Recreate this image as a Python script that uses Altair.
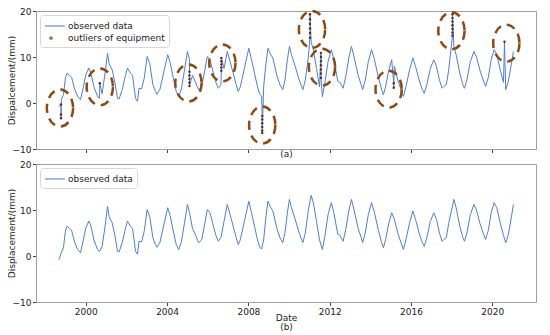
import altair as alt
import pandas as pd

# ---------------- data ----------------
obs_year = [1998.68, 1998.80, 1998.90, 1999.00, 1999.08, 1999.20, 1999.30, 1999.45, 1999.60, 1999.74,
            1999.88, 2000.00, 2000.15, 2000.25, 2000.40, 2000.58, 2000.67, 2000.80, 2000.95, 2001.07,
            2001.15, 2001.30, 2001.45, 2001.56, 2001.64, 2001.80, 2001.95, 2002.05, 2002.20, 2002.30,
            2002.45, 2002.54, 2002.62, 2002.75, 2002.88, 2003.02, 2003.15, 2003.30, 2003.43, 2003.50,
            2003.65, 2003.85, 2004.03, 2004.15, 2004.30, 2004.45, 2004.57, 2004.70, 2004.85, 2005.00,
            2005.10, 2005.25, 2005.40, 2005.55, 2005.70, 2005.85, 2005.98, 2006.10, 2006.25, 2006.40,
            2006.52, 2006.65, 2006.80, 2006.96, 2007.10, 2007.25, 2007.40, 2007.50, 2007.60, 2007.80,
            2008.02, 2008.15, 2008.30, 2008.45, 2008.55, 2008.65, 2008.75, 2008.85, 2008.96, 2009.10,
            2009.20, 2009.40, 2009.55, 2009.69, 2009.80, 2009.92, 2010.02, 2010.12, 2010.30, 2010.50,
            2010.68, 2010.80, 2010.95, 2011.09, 2011.20, 2011.35, 2011.50, 2011.64, 2011.75, 2011.92,
            2012.08, 2012.20, 2012.40, 2012.50, 2012.66, 2012.80, 2012.95, 2013.07, 2013.20, 2013.40,
            2013.55, 2013.62, 2013.75, 2013.90, 2014.06, 2014.20, 2014.40, 2014.55, 2014.64, 2014.75,
            2014.90, 2015.05, 2015.18, 2015.35, 2015.50, 2015.63, 2015.75, 2015.92, 2016.09, 2016.22,
            2016.40, 2016.55, 2016.65, 2016.78, 2016.95, 2017.12, 2017.25, 2017.40, 2017.53, 2017.62,
            2017.74, 2017.85, 2018.11, 2018.22, 2018.40, 2018.55, 2018.63, 2018.75, 2018.92, 2019.10,
            2019.22, 2019.40, 2019.55, 2019.67, 2019.80, 2019.95, 2020.09, 2020.22, 2020.40, 2020.55,
            2020.66, 2020.78, 2020.92, 2021.04]
obs_disp = [-0.8, 0.8, 1.8, 5.5, 6.5, 6.0, 5.6, 3.0, 1.4, 0.7,
            3.5, 6.1, 7.6, 6.5, 3.5, 1.4, 1.0, 2.0, 6.5, 10.8,
            8.5, 7.2, 4.0, 1.0, 0.9, 3.0, 6.0, 7.6, 6.4, 6.0,
            1.0, 0.4, 3.2, 3.1, 5.5, 10.1, 8.5, 4.0, 2.5, 1.9,
            3.0, 7.0, 10.5, 8.8, 5.5, 2.5, 1.4, 3.0, 7.0, 11.2,
            9.5, 6.0, 4.5, 2.9, 3.5, 7.0, 10.1, 9.5, 7.0, 4.5,
            3.2, 4.0, 7.5, 11.2, 9.0, 6.5, 4.0, 2.5, 3.5, 7.5,
            11.9, 9.5, 6.5, 3.5, 2.0, 1.5, 3.5, 8.0, 11.9, 10.5,
            9.8, 6.0, 4.0, 2.9, 5.0, 9.5, 12.3, 10.5, 8.0, 5.0,
            2.9, 5.0, 10.0, 13.2, 11.5, 7.5, 3.5, 1.4, 4.0, 9.0,
            11.6, 9.5, 4.7, 4.5, 3.2, 6.0, 10.0, 12.3, 10.0, 6.0,
            4.0, 2.9, 5.0, 9.0, 11.6, 9.5, 5.5, 3.0, 1.8, 3.5,
            7.0, 9.4, 8.0, 5.0, 3.0, 1.4, 3.5, 7.0, 9.8, 8.0,
            5.0, 3.0, 2.1, 4.0, 7.5, 9.4, 8.0, 5.0, 3.2, 3.6,
            4.0, 7.0, 12.3, 10.5, 6.5, 4.0, 3.2, 5.0, 9.0, 11.2,
            10.0, 7.0, 5.0, 3.6, 5.5, 9.5, 11.6, 10.5, 7.0, 4.5,
            2.9, 4.5, 8.0, 11.2]

# outliers of equipment (panel a)
out_year = [1998.78, 1998.78, 1998.78,
            2000.69,
            2005.10, 2005.10, 2005.10, 2005.10, 2005.10,
            2006.67, 2006.67, 2006.67, 2006.67, 2006.67,
            2008.68, 2008.68, 2008.68, 2008.68, 2008.68, 2008.68,
            2011.03, 2011.03, 2011.03, 2011.03, 2011.03, 2011.03,
            2011.57, 2011.57, 2011.57, 2011.57, 2011.57, 2011.57, 2011.57,
            2015.15, 2015.15,
            2018.04, 2018.04, 2018.04, 2018.04, 2018.04, 2018.04, 2018.04,
            2020.60]
out_disp = [-0.3, -2.5, -3.3,
            4.3,
            6.8, 6.0, 5.2, 4.4, 3.7,
            7.0, 7.7, 8.4, 9.1, 9.8,
            -2.8, -3.6, -4.4, -5.2, -6.0, -6.5,
            14.2, 15.2, 16.2, 17.2, 18.2, 19.3,
            10.9, 10.0, 9.1, 8.2, 7.3, 6.4, 5.5,
            4.3, 3.3,
            14.6, 15.3, 16.1, 16.9, 17.7, 18.5, 19.3,
            13.3]

# centres of the dashed rings drawn round the outliers
ring_year = [1998.73, 2000.69, 2005.05, 2006.72, 2008.68, 2011.13, 2011.62, 2014.90, 2017.99, 2020.69]
ring_disp = [-1.1, 3.5, 4.35, 8.7, -4.8, 16.0, 7.8, 3.0, 15.7, 13.0]

x_ticks = [2000, 2004, 2008, 2012, 2016, 2020]
y_ticks = [-10, -5, 0, 5, 10, 15, 20]
series_top = ["observed data", "outliers of equipment"]
series_bottom = ["observed data"]

# ---------------- styling ----------------
BLUE = "#4f7fd3"
DOT = "#5e2c1c"
RING = "#8a4b16"
FONT = "DejaVu Sans"
FS = 9

ELLIPSE = ("M 0.71 0 C 0.71 0.5523 0.392 1 0 1 C -0.392 1 -0.71 0.5523 -0.71 0 "
           "C -0.71 -0.5523 -0.392 -1 0 -1 C 0.392 -1 0.71 -0.5523 0.71 0 Z")
LEG_LINE = "M -1 0 L 2.27 0"
LEG_DOT = ("M 0.18 0 C 0.18 0.1 0.1 0.18 0 0.18 C -0.1 0.18 -0.18 0.1 -0.18 0 "
           "C -0.18 -0.1 -0.1 -0.18 0 -0.18 C 0.1 -0.18 0.18 -0.1 0.18 0 Z")

obs = pd.DataFrame({"year": obs_year, "disp": obs_disp})
outl = pd.DataFrame({"year": out_year, "disp": out_disp})
top_line = pd.concat([obs, outl], ignore_index=True)
top_line["k"] = range(len(top_line))
top_line = top_line.sort_values(["year", "k"], kind="stable").reset_index(drop=True)
top_line["seq"] = range(len(top_line))
obs["seq"] = range(len(obs))
rings = pd.DataFrame({"year": ring_year, "disp": ring_disp})
leg_top = pd.DataFrame({"series": series_top, "year": [1990.0] * 2, "disp": [0.0] * 2})
leg_bot = pd.DataFrame({"series": series_bottom, "year": [1990.0], "disp": [0.0]})

xscale = alt.Scale(domain=[1997.55, 2022.15], nice=False, zero=False)
yscale = alt.Scale(domain=[-10, 20], nice=False, zero=False)


def x_enc(labels, title, tpad):
    return alt.X("year:Q", scale=xscale,
                 axis=alt.Axis(values=x_ticks, format="d", labels=labels, title=title,
                               titlePadding=tpad, titleLineHeight=9))


def y_enc(title):
    return alt.Y("disp:Q", scale=yscale,
                 axis=alt.Axis(values=y_ticks, title=title, titlePadding=-4))


def legend():
    return alt.Legend(title=None, orient="top-left", offset=4, padding=4,
                      strokeColor="#d8d8d8", cornerRadius=3, fillColor="white",
                      labelFont=FONT, labelFontSize=FS, labelColor="#222",
                      symbolSize=150, symbolStrokeWidth=1.5, rowPadding=0, labelOffset=10)


def legend_layer(df, domain, colors, shapes):
    return alt.Chart(df).mark_point(clip=True, filled=False).encode(
        x=alt.X("year:Q", scale=xscale),
        y=alt.Y("disp:Q", scale=yscale),
        color=alt.Color("series:N", scale=alt.Scale(domain=domain, range=colors), legend=legend()),
        shape=alt.Shape("series:N", scale=alt.Scale(domain=domain, range=shapes), legend=legend()),
    )


top_lines = alt.Chart(top_line).mark_line(color=BLUE, strokeWidth=1).encode(
    x=x_enc(False, "(a)", -3.5), y=y_enc("Dispalcement/(mm)"), order="seq:Q")
top_pts = alt.Chart(outl).mark_circle(color=DOT, size=6, opacity=1).encode(
    x=alt.X("year:Q", scale=xscale), y=alt.Y("disp:Q", scale=yscale))
top_rings = alt.Chart(rings).mark_point(shape=ELLIPSE, size=1369, filled=False, color=RING,
                                       strokeWidth=2.5, strokeDash=[9, 6], opacity=1).encode(
    x=alt.X("year:Q", scale=xscale), y=alt.Y("disp:Q", scale=yscale))
top = alt.layer(top_lines, top_pts, top_rings,
                legend_layer(leg_top, series_top, [BLUE, DOT], [LEG_LINE, LEG_DOT])
                ).properties(width=500, height=138)

bot_lines = alt.Chart(obs).mark_line(color=BLUE, strokeWidth=1).encode(
    x=x_enc(True, ["Date", "(b)"], -3.0), y=y_enc("Displacement/(mm)"), order="seq:Q")
bottom = alt.layer(bot_lines,
                   legend_layer(leg_bot, series_bottom, [BLUE], [LEG_LINE])
                   ).properties(width=500, height=138)

chart = alt.vconcat(top, bottom, spacing=15, bounds="flush").resolve_scale(
    color="independent", shape="independent").resolve_legend(
    color="independent", shape="independent").properties(
    padding={"left": -2, "top": -3, "right": 0, "bottom": 0}).configure_axis(
    labelFont=FONT, titleFont=FONT, labelFontSize=FS, titleFontSize=FS,
    labelColor="#222", titleColor="#222", titleFontWeight="normal",
    domainColor="#a0a0a0", tickColor="#444", tickSize=3.5, labelPadding=1.5, grid=False
).configure_view(stroke="#a0a0a0", strokeWidth=1)

chart.save("out.html", embed_options={"renderer": "svg", "actions": False})
